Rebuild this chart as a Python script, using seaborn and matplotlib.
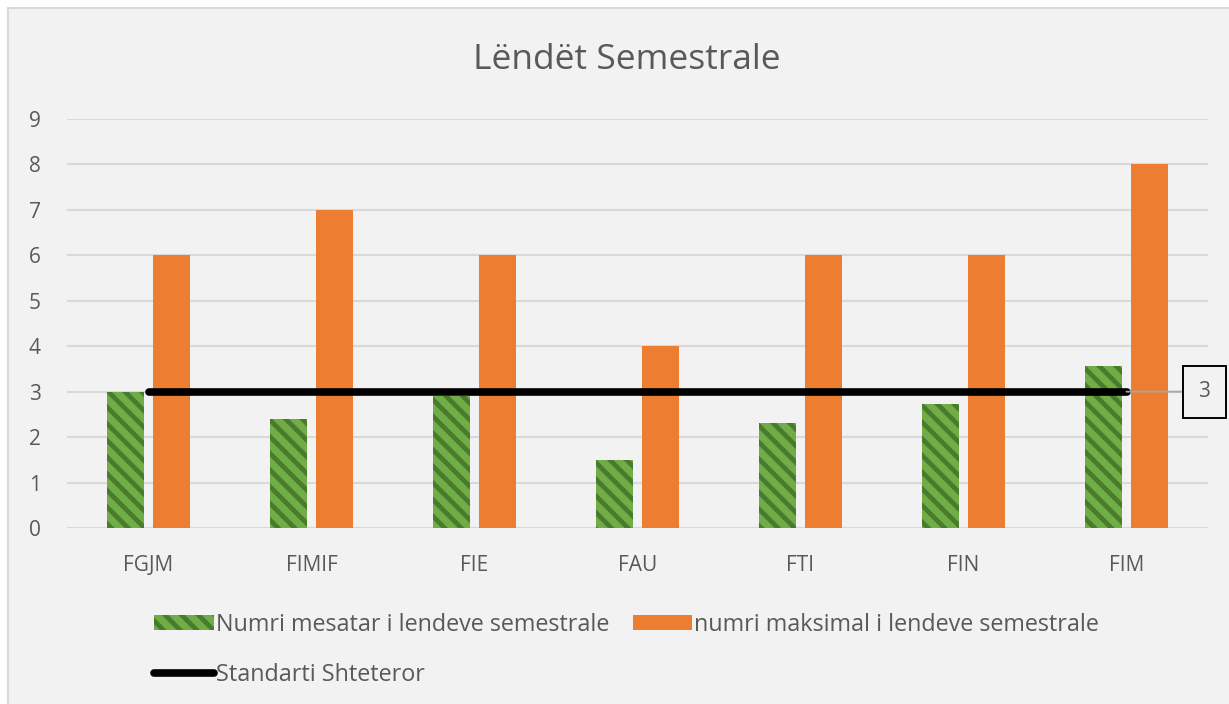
"""
Lëndët Semestrale - bar chart with national standard line.
"""

import numpy as np
import pandas as pd
import matplotlib
matplotlib.use("Agg")
import matplotlib.pyplot as plt
from matplotlib.patches import Patch, Rectangle
from matplotlib.lines import Line2D
import seaborn as sns

# data
faculties = ["FGJM", "FIMIF", "FIE", "FAU", "FTI", "FIN", "FIM"]
avg_subjects = [3.0, 2.4, 2.9, 1.5, 2.3, 2.73, 3.57]
max_subjects = [6, 7, 6, 4, 6, 6, 8]
state_standard = [3, 3, 3, 3, 3, 3, 3]
y_ticks = list(range(0, 10))

series_avg = "Numri mesatar i lendeve semestrale"
series_max = "numri maksimal i lendeve semestrale"
series_std = "Standarti Shteteror"

GREEN = "#70ad47"
GREEN_DARK = "#4a7a2c"
ORANGE = "#ed7d31"
TEXT = "#595959"
BG = "#f2f2f2"

df = pd.DataFrame({
    "faculty": faculties * 2,
    "value": avg_subjects + max_subjects,
    "series": [series_avg] * len(faculties) + [series_max] * len(faculties),
})

sns.set_theme(style="white")
plt.rcParams["font.family"] = ["Open Sans", "DejaVu Sans"]
plt.rcParams["hatch.linewidth"] = 3.4

fig = plt.figure(figsize=(12.29, 7.04), dpi=100)
fig.patch.set_facecolor("white")
# chart area (cropped on right/bottom in the reference)
fig.patches.append(Rectangle((8 / 1229, -0.1), 1.2, 1.1 - 8 / 704, transform=fig.transFigure,
                             facecolor=BG, edgecolor="#d9d9d9", linewidth=1.5, zorder=-5))

ax = fig.add_axes([67 / 1229, 1 - 528 / 704, (1208 - 67) / 1229, (528 - 119) / 704])
ax.set_facecolor(BG)

sns.barplot(data=df, x="faculty", y="value", hue="series",
            palette=[GREEN, ORANGE], saturation=1, width=0.56, gap=0.18,
            linewidth=0, ax=ax, legend=False, zorder=3)

# hatch the green bars
for bar in ax.containers[0]:
    bar.set_hatch("\\\\")
    bar.set_edgecolor(GREEN_DARK)
    bar.set_linewidth(0)

sns.lineplot(x=faculties, y=state_standard, sort=False, color="black",
             linewidth=5.5, ax=ax, zorder=4, solid_capstyle="round")

# data label for the last point
ax.annotate("3", xy=(len(faculties) - 1, state_standard[-1]), xytext=(56, 0),
            textcoords="offset points", ha="center", va="center",
            fontsize=15, color=TEXT,
            bbox=dict(boxstyle="square,pad=0.75", facecolor=BG, edgecolor="black", linewidth=1.4),
            arrowprops=dict(arrowstyle="-", color="#a6a6a6", linewidth=1.3,
                            shrinkA=0, shrinkB=0),
            zorder=5, annotation_clip=False)

ax.set_ylim(0, 9)
ax.set_xlim(-0.5, len(faculties) - 0.5)
ax.set_yticks(y_ticks)
ax.yaxis.grid(True, color="#d9d9d9", linewidth=1.5)
ax.set_axisbelow(True)
for s in ax.spines.values():
    s.set_visible(False)
ax.tick_params(axis="both", length=0, labelsize=15, labelcolor=TEXT)
ax.tick_params(axis="y", pad=19)
ax.tick_params(axis="x", pad=19.5)
ax.set_xlabel("")
ax.set_ylabel("")

fig.text(0.51, 1 - 60 / 704, "Lëndët Semestrale", ha="center", va="center",
         fontsize=25.5, color=TEXT)

handles = [
    Patch(facecolor=GREEN, edgecolor=GREEN_DARK, hatch="\\\\", linewidth=0, label=series_avg),
    Line2D([0], [0], color="black", linewidth=5.5, solid_capstyle="round", label=series_std),
    Patch(facecolor=ORANGE, edgecolor=ORANGE, linewidth=0, label=series_max),
]
leg = fig.legend(handles=handles, ncol=2, loc="upper left",
                 bbox_to_anchor=(133 / 1229, 1 - 592 / 704), frameon=False,
                 fontsize=16.8, labelcolor=TEXT, handlelength=2.55, handleheight=0.6,
                 handletextpad=0.1, columnspacing=1.0, labelspacing=1.1)

fig.savefig("out.png", dpi=100, facecolor=fig.get_facecolor())
